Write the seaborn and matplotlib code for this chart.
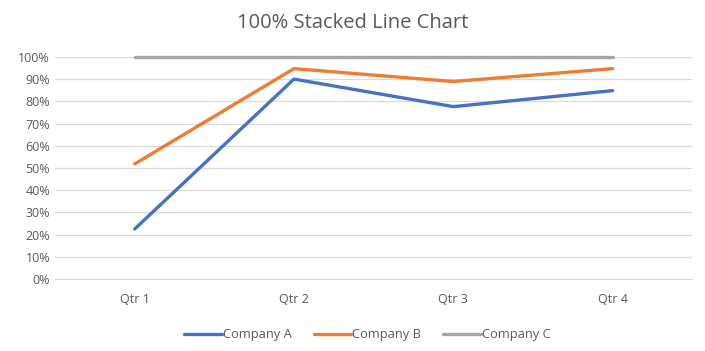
import pandas as pd
import numpy as np
import seaborn as sns
import matplotlib.pyplot as plt
from matplotlib.ticker import PercentFormatter

# shares (percent of the total per quarter)
quarters = ['Qtr 1', 'Qtr 2', 'Qtr 3', 'Qtr 4']
company_a = [22.5, 90.0, 77.6, 84.8]
company_b = [29.3, 4.7, 11.3, 9.9]
company_c = [48.2, 5.3, 11.1, 5.3]
companies = ['Company A', 'Company B', 'Company C']
colors = ['#4472C4', '#ED7D31', '#A5A5A5']

# 100% stacked -> cumulative share
shares = np.array([company_a, company_b, company_c])
cum = np.cumsum(shares, axis=0)
df = pd.DataFrame({
    'Quarter': quarters * 3,
    'Company': np.repeat(companies, len(quarters)),
    'Share': cum.ravel(),
})
df['x'] = np.tile(np.arange(len(quarters)), 3)

sns.set_style('white')
plt.rcParams['font.family'] = ['Open Sans', 'DejaVu Sans']
txt = '#595959'

fig = plt.figure(figsize=(7.05, 3.51), dpi=100)
ax = fig.add_axes([0.078, 0.205, 0.904, 0.633])

sns.lineplot(data=df, x='x', y='Share', hue='Company', palette=colors,
             linewidth=2.4, ax=ax, legend=True)
for line in ax.lines:
    line.set_clip_on(False)

ax.set_xlim(-0.5, 3.5)
ax.set_ylim(0, 100)
ax.set_yticks(np.arange(0, 101, 10))
ax.yaxis.set_major_formatter(PercentFormatter(decimals=0))
ax.set_xticks(range(len(quarters)))
ax.set_xticklabels(quarters)
ax.grid(axis='y', color='#D9D9D9', linewidth=0.9)
ax.set_axisbelow(True)
for s in ['top', 'right', 'left']:
    ax.spines[s].set_visible(False)
ax.spines['bottom'].set_color('#D9D9D9')
ax.tick_params(length=0, colors=txt, labelsize=9)
ax.tick_params(axis='x', pad=10)
ax.set_xlabel('')
ax.set_ylabel('')
fig.text(0.5, 0.935, '100% Stacked Line Chart', color=txt, fontsize=14.5,
         ha='center', va='center')

h, l = ax.get_legend_handles_labels()
ax.legend(h, l, loc='upper center', bbox_to_anchor=(0.49, -0.17), ncol=3,
          frameon=False, fontsize=9.3, labelcolor=txt, handlelength=2.9,
          handletextpad=0.1, columnspacing=1.7)

fig.savefig('out.png', dpi=100)
